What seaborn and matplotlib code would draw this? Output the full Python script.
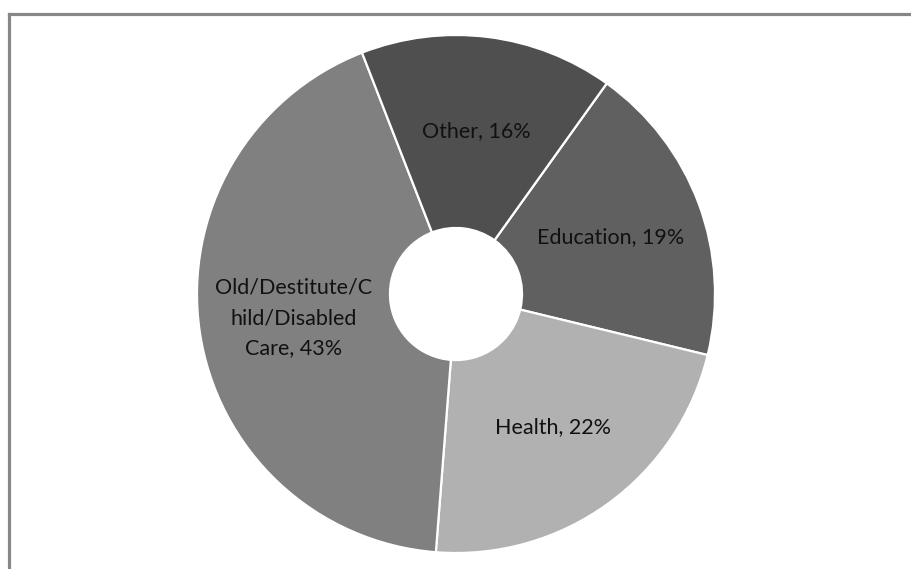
import matplotlib
matplotlib.use("Agg")
import matplotlib.pyplot as plt
import seaborn as sns
from matplotlib.lines import Line2D

categories = ["Education", "Health", "Old/Destitute/C\nhild/Disabled\nCare", "Other"]
values = [18.9, 22.45, 42.85, 15.8]
colors = ["#606060", "#b1b1b1", "#808080", "#4f4f4f"]

sns.set_theme(style="white")
plt.rcParams["font.family"] = ["Lato", "DejaVu Sans"]

W, H = 912, 569
fig = plt.figure(figsize=(W / 100, H / 100), dpi=100)
cx, cy, R = 456, 294, 259
ax = fig.add_axes([(cx - R) / W, (H - cy - R) / H, 2 * R / W, 2 * R / H])

labels = [f"{c}, {round(v)}%" for c, v in zip(categories, values)]
wedges, texts = ax.pie(values, colors=colors, startangle=90 - 35.6, counterclock=False,
                       radius=1.0, labels=labels, labeldistance=0.635,
                       wedgeprops=dict(width=0.745, edgecolor="white", linewidth=1.6),
                       textprops=dict(fontsize=15.5, color="#111111"))
for t in texts:
    t.set_horizontalalignment("center")
    t.set_verticalalignment("center")
    t.set_multialignment("center")
    t.set_linespacing(1.65)
ax.set_xlim(-1, 1)
ax.set_ylim(-1, 1)
ax.set_aspect("equal")
ax.axis("off")

# outer frame (top and left edges visible)
fig.add_artist(Line2D([9.5 / W, 9.5 / W], [0, 1 - 13.5 / H], transform=fig.transFigure,
                      color="#878787", linewidth=2.3, solid_capstyle="projecting"))
fig.add_artist(Line2D([9.5 / W, 1], [1 - 13.5 / H, 1 - 13.5 / H], transform=fig.transFigure,
                      color="#878787", linewidth=2.3, solid_capstyle="projecting"))

fig.savefig("out.png", dpi=100, facecolor="white")
